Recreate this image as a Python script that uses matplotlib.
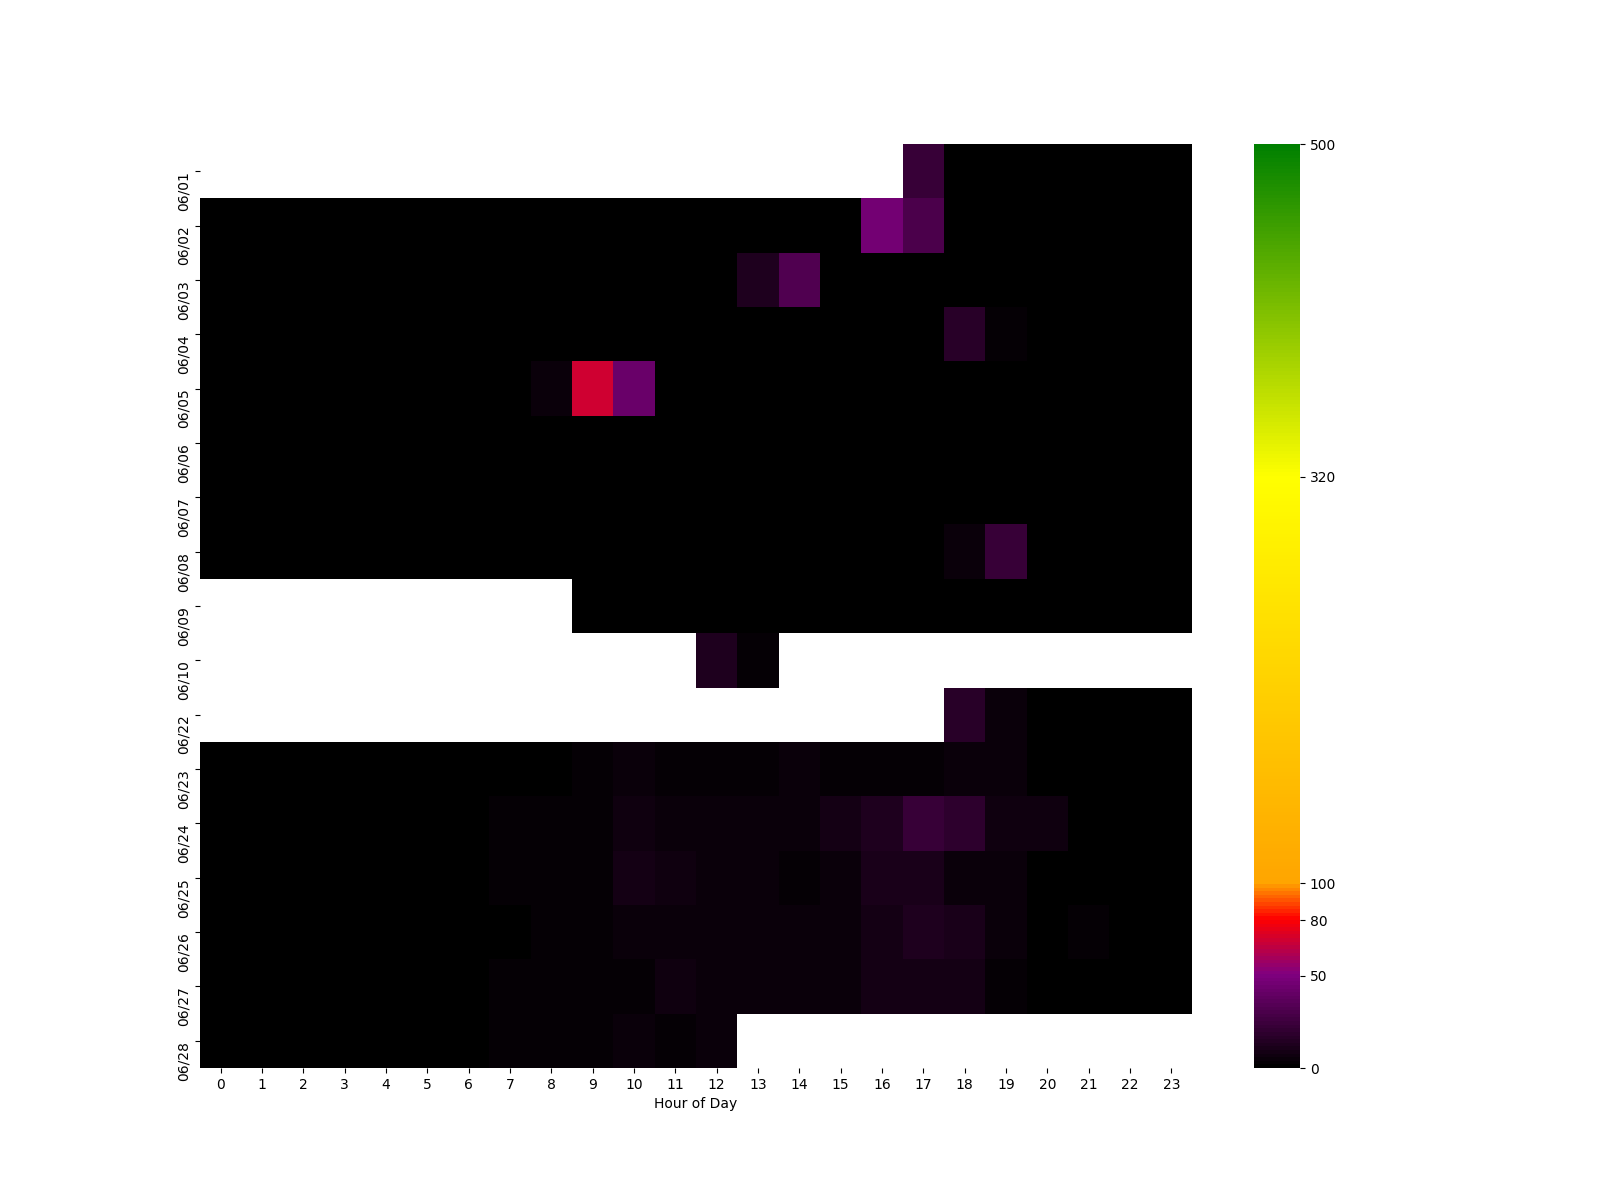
import numpy as np
import pandas as pd
import matplotlib
matplotlib.use('Agg')
import matplotlib.pyplot as plt
import seaborn as sns
from matplotlib.colors import LinearSegmentedColormap

# ---------------------------------------
# Datos: filas = días, columnas = hora del día
# ---------------------------------------
n = np.nan
days = ['06/01', '06/02', '06/03', '06/04', '06/05', '06/06', '06/07', '06/08',
        '06/09', '06/10', '06/22', '06/23', '06/24', '06/25', '06/26', '06/27', '06/28']
hours = list(range(24))

d0601 = [n, n, n, n, n, n, n, n, n, n, n, n, n, n, n, n, n, 22, 0, 0, 0, 0, 0, 0]
d0602 = [0, 0, 0, 0, 0, 0, 0, 0, 0, 0, 0, 0, 0, 0, 0, 0, 46, 31, 0, 0, 0, 0, 0, 0]
d0603 = [0, 0, 0, 0, 0, 0, 0, 0, 0, 0, 0, 0, 0, 13, 33, 0, 0, 0, 0, 0, 0, 0, 0, 0]
d0604 = [0, 0, 0, 0, 0, 0, 0, 0, 0, 0, 0, 0, 0, 0, 0, 0, 0, 0, 17, 3, 0, 0, 0, 0]
d0605 = [0, 0, 0, 0, 0, 0, 0, 0, 5, 70, 42, 0, 0, 0, 0, 0, 0, 0, 0, 0, 0, 0, 0, 0]
d0606 = [0, 0, 0, 0, 0, 0, 0, 0, 0, 0, 0, 0, 0, 0, 0, 0, 0, 0, 0, 0, 0, 0, 0, 0]
d0607 = [0, 0, 0, 0, 0, 0, 0, 0, 0, 0, 0, 0, 0, 0, 0, 0, 0, 0, 0, 0, 0, 0, 0, 0]
d0608 = [0, 0, 0, 0, 0, 0, 0, 0, 0, 0, 0, 0, 0, 0, 0, 0, 0, 0, 5, 22, 0, 0, 0, 0]
d0609 = [n, n, n, n, n, n, n, n, n, 0, 0, 0, 0, 0, 0, 0, 0, 0, 0, 0, 0, 0, 0, 0]
d0610 = [n, n, n, n, n, n, n, n, n, n, n, n, 13, 3, n, n, n, n, n, n, n, n, n, n]
d0622 = [n, n, n, n, n, n, n, n, n, n, n, n, n, n, n, n, n, n, 16, 5, 0, 0, 0, 0]
d0623 = [0, 0, 0, 0, 0, 0, 0, 0, 0, 2, 4, 2.5, 2.5, 2.5, 4, 2, 2, 2, 4, 4, 0, 0, 0, 0]
d0624 = [0, 0, 0, 0, 0, 0, 0, 2, 2, 2, 6, 4, 4, 4, 4, 8, 13, 23, 19, 6, 6, 0, 0, 0]
d0625 = [0, 0, 0, 0, 0, 0, 0, 2, 2, 2, 8, 6, 4, 4, 2, 5, 10, 10, 4, 5, 0, 0, 0, 0]
d0626 = [0, 0, 0, 0, 0, 0, 0, 0, 2, 2, 4, 4, 4, 4, 4, 5, 9, 13, 10, 5, 0, 3, 0, 0]
d0627 = [0, 0, 0, 0, 0, 0, 0, 2, 2, 2, 2, 6, 4, 4, 4, 5, 8, 8, 8, 2, 0, 0, 0, 0]
d0628 = [0, 0, 0, 0, 0, 0, 0, 2, 2, 2, 4, 2, 4, n, n, n, n, n, n, n, n, n, n, n]

rows = [d0601, d0602, d0603, d0604, d0605, d0606, d0607, d0608, d0609,
        d0610, d0622, d0623, d0624, d0625, d0626, d0627, d0628]
df = pd.DataFrame(rows, index=days, columns=hours)

# ---------------------------------------
# Mapa de colores: negro -> morado -> rojo -> naranja -> amarillo -> verde
# ---------------------------------------
vmax = 500
stops = [0, 50, 80, 100, 320, 500]
colors = ['black', 'purple', 'red', 'orange', 'yellow', 'green']
cmap = LinearSegmentedColormap.from_list(
    'aqi', [(s / vmax, c) for s, c in zip(stops, colors)])

# ---------------------------------------
# Dibujar
# ---------------------------------------
fig = plt.figure(figsize=(16, 12), dpi=100)
ax = sns.heatmap(df, cmap=cmap, vmin=0, vmax=vmax,
                 cbar_kws={'ticks': stops})
ax.set_xlabel('Hour of Day')
ax.set_ylabel('')
plt.yticks(rotation=90, va='top')
plt.xticks(rotation=0)

plt.savefig('out.png')
